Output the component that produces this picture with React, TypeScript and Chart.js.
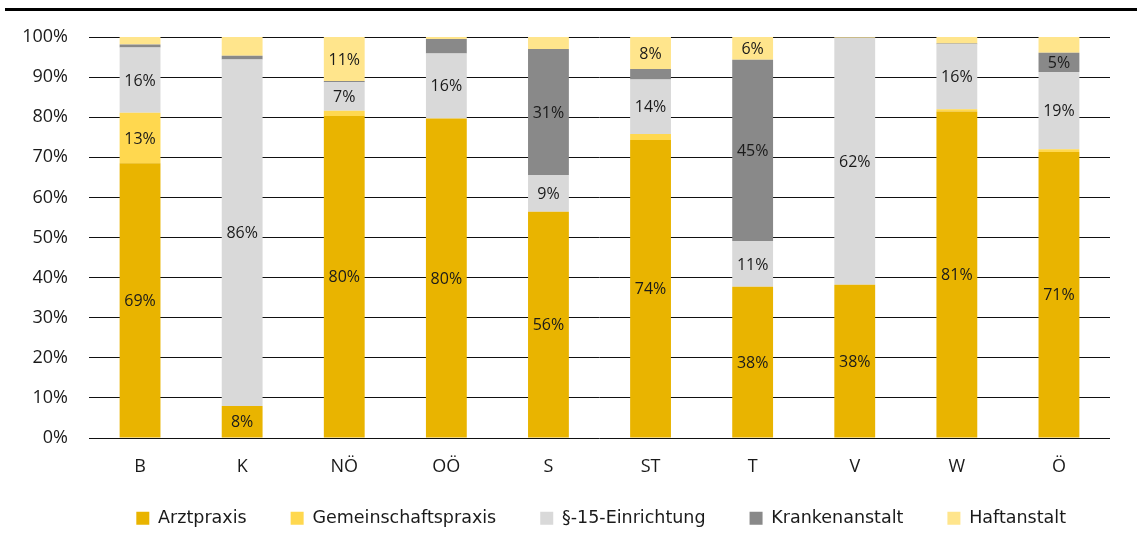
import React, { useEffect, useRef } from "react";
import { Chart, registerables } from "chart.js";

Chart.register(...registerables);

const categories = ["B", "K", "NÖ", "OÖ", "S", "ST", "T", "V", "W", "Ö"];
const seriesNames = ["Arztpraxis", "Gemeinschaftspraxis", "§-15-Einrichtung", "Krankenanstalt", "Haftanstalt"];
const arztpraxis = [68.5, 8.0, 80.3, 79.7, 56.4, 74.3, 37.7, 38.2, 81.4, 71.3];
const gemeinschaftspraxis = [12.6, 0, 1.3, 0, 0, 1.5, 0, 0, 0.6, 0.7];
const einrichtung15 = [16.3, 86.4, 7.1, 16.2, 9.2, 13.6, 11.4, 61.6, 16.2, 19.3];
const krankenanstalt = [0.7, 0.9, 0.3, 3.6, 31.4, 2.6, 45.2, 0, 0.2, 4.8];
const haftanstalt = [1.9, 4.7, 11.0, 0.5, 3.0, 8.0, 5.7, 0.2, 1.6, 3.9];
const seriesColors = ["#E9B400", "#FFD84F", "#D9D9D9", "#898989", "#FFE58C"];
const yTicks = [0, 10, 20, 30, 40, 50, 60, 70, 80, 90, 100];

const AXIS_FONT = "'Open Sans', sans-serif";
const LEGEND_FONT = "'DejaVu Sans', sans-serif";

const topRulePlugin = {
  id: "topRule",
  beforeDraw(chart: any) {
    const ctx = chart.ctx;
    ctx.save();
    ctx.fillStyle = "#000";
    ctx.fillRect(5, 8, chart.width - 5, 3);
    ctx.restore();
  },
};

const valueLabelPlugin = {
  id: "valueLabels",
  afterDatasetsDraw(chart: any) {
    const ctx = chart.ctx;
    ctx.save();
    ctx.font = `16px ${AXIS_FONT}`;
    ctx.fillStyle = "#1a1a1a";
    ctx.textAlign = "center";
    ctx.textBaseline = "middle";
    chart.data.datasets.forEach((ds: any, di: number) => {
      const meta = chart.getDatasetMeta(di);
      meta.data.forEach((bar: any, i: number) => {
        const v = ds.data[i];
        if (v >= 4.75) {
          const cy = (bar.y + bar.base) / 2;
          ctx.fillText(`${Math.round(v)}%`, bar.x, cy + 1);
        }
      });
    });
    ctx.restore();
  },
};

export default function App() {
  const canvasRef = useRef<HTMLCanvasElement | null>(null);

  useEffect(() => {
    let chart: Chart | null = null;
    let cancelled = false;
    const build = () => {
      if (cancelled || !canvasRef.current) return;
      const seriesData = [arztpraxis, gemeinschaftspraxis, einrichtung15, krankenanstalt, haftanstalt];
      chart = new Chart(canvasRef.current, {
        type: "bar",
        data: {
          labels: categories,
          datasets: seriesNames.map((name, i) => ({
            label: name,
            data: seriesData[i],
            backgroundColor: seriesColors[i],
            borderWidth: 0,
            categoryPercentage: 1,
            barPercentage: 0.4,
          })),
        },
        options: {
          animation: false,
          responsive: false,
          maintainAspectRatio: false,
          layout: { padding: { top: 37, right: 27, left: 0, bottom: 7 } },
          font: { family: AXIS_FONT },
          scales: {
            x: {
              stacked: true,
              grid: { display: false, drawTicks: false },
              border: { display: false },
              ticks: { color: "#1a1a1a", font: { family: AXIS_FONT, size: 18 }, padding: 18 },
              afterFit: (scale: any) => {
                scale.height = 50;
              },
            },
            y: {
              stacked: true,
              min: 0,
              max: 100,
              afterBuildTicks: (scale: any) => {
                scale.ticks = yTicks.map((v) => ({ value: v }));
              },
              grid: { color: "#111", lineWidth: 1, drawTicks: false },
              border: { display: false },
              ticks: {
                color: "#1a1a1a",
                font: { family: AXIS_FONT, size: 18 },
                padding: 21,
                callback: (v: any) => `${v}%`,
              },
              afterFit: (scale: any) => {
                scale.width = 89;
              },
            },
          },
          plugins: {
            legend: {
              position: "bottom",
              align: "end",
              title: { display: true, text: "", font: { size: 10 }, padding: { top: -34.5, bottom: 0 } },
              labels: {
                boxWidth: 13,
                boxHeight: 13,
                padding: 44,
                color: "#1a1a1a",
                font: { family: LEGEND_FONT, size: 17.5 },
              },
            },
            tooltip: { enabled: false },
          },
        } as any,
        plugins: [topRulePlugin, valueLabelPlugin],
      });
    };
    const fontsApi = (document as any).fonts;
    if (fontsApi && fontsApi.load) {
      Promise.all([
        fontsApi.load("18px 'Open Sans'"),
        fontsApi.load("16px 'Open Sans'"),
        fontsApi.load("17.5px 'DejaVu Sans'"),
      ]).then(build, build);
    } else {
      build();
    }
    return () => {
      cancelled = true;
      if (chart) chart.destroy();
    };
  }, []);

  return (
    <div style={{ position: "absolute", left: 0, top: 0, width: 1137, height: 544, background: "#fff" }}>
      <canvas ref={canvasRef} width={1137} height={544} style={{ width: 1137, height: 544 }} />
    </div>
  );
}
